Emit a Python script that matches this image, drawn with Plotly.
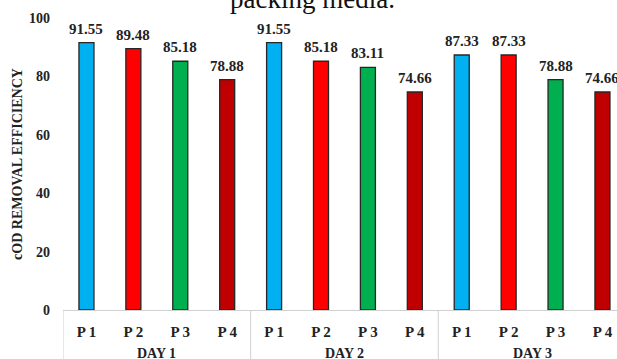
import plotly.graph_objects as go

day_names = ["DAY 1", "DAY 2", "DAY 3"]
phase_names = ["P 1", "P 2", "P 3", "P 4"]
days = ["DAY 1"] * 4 + ["DAY 2"] * 4 + ["DAY 3"] * 4
phases = phase_names * 3
values = [91.55, 89.48, 85.18, 78.88,
          91.55, 85.18, 83.11, 74.66,
          87.33, 87.33, 78.88, 74.66]
colors = ["#00B0F0", "#FF0000", "#00B050", "#C00000"] * 3
y_ticks = [0, 20, 40, 60, 80, 100]

serif = "Liberation Serif"
cats = [f"{d} {p}" for d, p in zip(days, phases)]

fig = go.Figure(go.Bar(
    x=cats,
    y=values,
    marker=dict(color=colors, line=dict(color="#262626", width=1.3)),
    width=0.32,
    cliponaxis=False,
))

# value labels above bars
for c, v in zip(cats, values):
    fig.add_annotation(
        text=f"{v:.2f}", xref="x", yref="y", x=c, y=v,
        yanchor="bottom", yshift=4, showarrow=False,
        font=dict(family=serif, size=15, color="#222", weight="bold"),
    )

# group labels and dividers
for i, d in enumerate(day_names):
    fig.add_annotation(
        text=d, xref="x", yref="paper", x=i * 4 + 1.5, y=0, yshift=-43,
        yanchor="middle", showarrow=False,
        font=dict(family=serif, size=14, color="#222", weight="bold"),
    )
for xpos in [-0.5, 3.5, 7.5, 11.5]:
    fig.add_shape(type="line", xref="x", yref="paper", x0=xpos, x1=xpos,
                  y0=0, y1=-0.2, line=dict(color="#d0d0d0", width=1))

fig.add_annotation(
    text="packing media.", xref="paper", yref="paper",
    x=0.451, y=1.0, xanchor="center", yanchor="bottom", yshift=2,
    showarrow=False, font=dict(family=serif, size=27, color="#111"),
)

fig.update_layout(
    width=617, height=359,
    margin=dict(l=63, r=0, t=18, b=49),
    plot_bgcolor="white", paper_bgcolor="white",
    showlegend=False,
)
fig.update_xaxes(
    type="category", categoryorder="array", categoryarray=cats,
    tickvals=cats, ticktext=phases,
    range=[-0.5, 11.31], automargin=False,
    showline=True, linecolor="#d0d0d0", linewidth=1,
    ticks="", ticklabelstandoff=8,
    tickfont=dict(family=serif, size=15, color="#222", weight="bold"),
    showgrid=False,
)
fig.update_yaxes(
    range=[0, 100], tickvals=y_ticks, showgrid=False, zeroline=False,
    showline=False, ticks="", automargin=False,
    ticklabelstandoff=12,
    tickfont=dict(family=serif, size=14, color="#222", weight="bold"),
    title=dict(text="cOD REMOVAL EFFICIENCY",
               font=dict(family=serif, size=14, color="#222", weight="bold"),
               standoff=3),
)

fig.write_html("out.html", config={"displayModeBar": False},
               post_script="document.body.style.margin='0';")
